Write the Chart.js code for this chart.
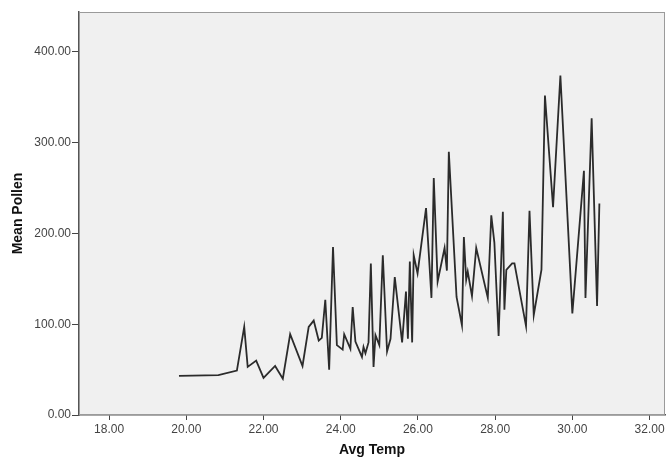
<!DOCTYPE html>
<html>
<head>
<meta charset="utf-8">
<script src="https://cdn.jsdelivr.net/npm/chart.js@4"></script>
<style>
  body { margin: 0; background: #fff; }
</style>
</head>
<body>
<canvas id="pollen-chart" width="669" height="459"></canvas>
<script>
// avg temperature per observation and the mean pollen count at it
const temps = [19.81, 20.83, 21.31, 21.50, 21.59, 21.81, 22.00, 22.30, 22.50, 22.69,
    23.01, 23.17, 23.30, 23.43, 23.51, 23.60, 23.70, 23.80, 23.90, 24.05,
    24.09, 24.25, 24.31, 24.38, 24.55, 24.59, 24.64, 24.72, 24.78, 24.85,
    24.90, 25.00, 25.09, 25.20, 25.29, 25.40, 25.59, 25.69, 25.74, 25.79,
    25.85, 25.89, 25.99, 26.21, 26.35, 26.41, 26.51, 26.69, 26.75, 26.80,
    27.00, 27.14, 27.19, 27.25, 27.29, 27.40, 27.51, 27.81, 27.90, 27.98,
    28.09, 28.20, 28.24, 28.29, 28.44, 28.50, 28.80, 28.89, 29.00, 29.20,
    29.29, 29.50, 29.69, 30.00, 30.30, 30.34, 30.50, 30.64, 30.70];
const pollen = [43, 44, 49, 97, 53, 60, 41, 54, 40, 89,
    54, 97, 104, 82, 85, 127, 50, 185, 77, 72,
    89, 73, 119, 81, 64, 75, 68, 80, 167, 53,
    88, 77, 176, 70, 84, 152, 80, 136, 84, 169,
    80, 176, 156, 228, 129, 261, 147, 184, 159, 290,
    130, 99, 196, 149, 158, 131, 184, 129, 220, 190,
    87, 224, 116, 160, 167, 167, 98, 225, 110, 160,
    352, 229, 374, 112, 269, 129, 327, 120, 233];

const xTicks = [18, 20, 22, 24, 26, 28, 30, 32];
const yTicks = [0, 100, 200, 300, 400];

const canvas = document.getElementById('pollen-chart');

// grey plot background + thin frame round the chart area
const plotFrame = {
    id: 'plotFrame',
    beforeDatasetsDraw(chart) {
        const {ctx, chartArea: a} = chart;
        ctx.save();
        ctx.fillStyle = '#f0f0f0';
        ctx.fillRect(a.left, a.top, a.right - a.left, a.bottom - a.top);
        ctx.strokeStyle = '#9a9a9a';
        ctx.lineWidth = 1;
        ctx.strokeRect(a.left + 0.5, a.top + 0.5, a.right - a.left - 1, a.bottom - a.top - 1);
        ctx.restore();
    }
};

function fixedTicks(values) {
    return scale => { scale.ticks = values.map(v => ({value: v})); };
}

new Chart(canvas, {
    type: 'scatter',
    data: {
        datasets: [{
            label: 'Mean Pollen',
            data: temps.map((t, i) => ({x: t, y: pollen[i]})),
            showLine: true,
            borderColor: '#2b2b2b',
            borderWidth: 1.8,
            pointRadius: 0,
            tension: 0
        }]
    },
    options: {
        responsive: false,
        animation: false,
        layout: {padding: {top: 12, right: 4, left: 0, bottom: 0}},
        plugins: {
            legend: {display: false},
            tooltip: {enabled: false}
        },
        scales: {
            x: {
                type: 'linear',
                min: 17.22,
                max: 32.4,
                afterBuildTicks: fixedTicks(xTicks),
                afterFit: s => { s.height = 44; },
                grid: {drawOnChartArea: false, drawTicks: true, tickLength: 5, color: '#444', lineWidth: 1},
                border: {display: true, color: '#555', width: 1.5},
                ticks: {
                    padding: 2,
                    color: '#444',
                    font: {family: 'Liberation Sans, Arial', size: 12},
                    maxRotation: 0,
                    callback: v => v.toFixed(2)
                },
                title: {
                    display: true,
                    text: 'Avg Temp',
                    color: '#111',
                    font: {family: 'Liberation Sans, Arial', size: 14, weight: 'bold'},
                    padding: {top: 0, bottom: 0}
                }
            },
            y: {
                min: 0,
                max: 444,
                afterBuildTicks: fixedTicks(yTicks),
                afterFit: s => { s.width = 79; },
                grid: {drawOnChartArea: false, drawTicks: true, tickLength: 7, color: '#444', lineWidth: 1},
                border: {display: true, color: '#555', width: 1.5},
                ticks: {
                    padding: 1,
                    color: '#444',
                    font: {family: 'Liberation Sans, Arial', size: 12},
                    callback: v => v.toFixed(2)
                },
                title: {
                    display: true,
                    text: 'Mean Pollen',
                    color: '#111',
                    font: {family: 'Liberation Sans, Arial', size: 14, weight: 'bold'},
                    padding: {top: 10, bottom: 0}
                }
            }
        }
    },
    plugins: [plotFrame]
});
</script>
</body>
</html>
